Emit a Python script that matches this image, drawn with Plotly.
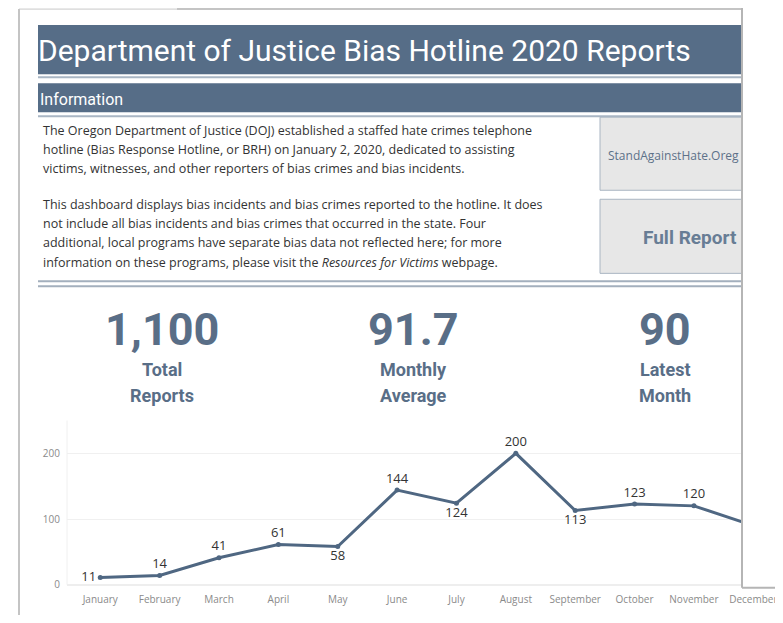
import plotly.graph_objects as go

# page body has an 8px margin; keep the figure inside the 783x623 window
OFF = 8
W, H = 783 - OFF, 623 - 2 * OFF
SY = 1.011  # small vertical correction so rows land where the reference has them

months = ["January", "February", "March", "April", "May", "June",
          "July", "August", "September", "October", "November", "December"]
reports = [11, 14, 41, 61, 58, 144, 124, 200, 113, 123, 120, 90]
label_pos = ["middle left", "top center", "top center", "top center", "bottom center",
             "top center", "bottom center", "top center", "bottom center",
             "top center", "top center", "top center"]

kpi_values = ["1,100", "91.7", "90"]
kpi_line1 = ["Total", "Monthly", "Latest"]
kpi_line2 = ["Reports", "Average", "Month"]

title_text = "Department of Justice Bias Hotline 2020 Reports"
para_lines = [
    "The Oregon Department of Justice (DOJ) established a staffed hate crimes telephone",
    "hotline (Bias Response Hotline, or BRH) on January 2, 2020, dedicated to assisting",
    "victims, witnesses, and other reporters of bias crimes and bias incidents.",
    "This dashboard displays bias incidents and bias crimes reported to the hotline. It does",
    "not include all bias incidents and bias crimes that occurred in the state. Four",
    "additional, local programs have separate bias data not reflected here; for more",
    "information on these programs, please visit the <i>Resources for Victims</i> webpage.",
]

SLATE = "#566d87"
KPI = "#596e87"
LINE = "#4f6782"


def px(x):
    return (x - OFF) / W


def py(y):
    return min(1.0, 1 - (y * SY - OFF) / H) if y > 0 else 1.0


fig = go.Figure()

fig.add_trace(go.Scatter(
    x=months, y=reports, mode="lines+markers+text",
    text=[str(v) for v in reports], textposition=label_pos,
    textfont=dict(family="Open Sans", size=13, color="#333333"),
    line=dict(color=LINE, width=3), marker=dict(color=LINE, size=5),
    cliponaxis=False, hoverinfo="x+y",
))

shapes = []


def rect(x0, y0, x1, y1, fill, line=None, lw=0, layer="below"):
    shapes.append(dict(type="rect", xref="paper", yref="paper",
                       x0=px(x0), x1=px(x1), y0=py(y1), y1=py(y0),
                       fillcolor=fill, layer=layer,
                       line=dict(color=line or fill, width=lw)))


def hline(x0, x1, y, color, w=1, layer="below"):
    shapes.append(dict(type="line", xref="paper", yref="paper",
                       x0=px(x0), x1=px(x1), y0=py(y), y1=py(y),
                       line=dict(color=color, width=w), layer=layer))


def vline(x, y0, y1, color, w=1, layer="below"):
    shapes.append(dict(type="line", xref="paper", yref="paper",
                       x0=px(x), x1=px(x), y0=py(y0), y1=py(y1),
                       line=dict(color=color, width=w), layer=layer))


# card edges and the window strip on top
vline(19, 9, 615, "#c4c4c4", 2)
hline(19, 180, 9, "#c8c8c8", 1)
hline(177, 742, 9, "#c4c4c4", 2)

# header bars
rect(38, 25, 742, 74, SLATE)
hline(38, 742, 77, "#a9b6c4", 2)
rect(38, 83, 742, 112, SLATE)
hline(38, 742, 116, "#a9b6c4", 2)

# link boxes
rect(600, 117, 745, 190, "#e7e7e7", "#a9b5c2", 1)
rect(600, 199, 745, 273, "#e7e7e7", "#a9b5c2", 1)

# double divider
hline(38, 742, 281, "#a3afbd", 2)
hline(38, 742, 286, "#a3afbd", 2)

# overlapping window on the right
rect(742, 0, 790, 587, "#ffffff", layer="above")
vline(742, 0, 587, "#b5b5b5", 2, layer="above")
hline(742, 790, 587, "#b5b5b5", 2, layer="above")

ann = []


def text(x, y, s, size, color, family="Open Sans", xanchor="left", bold=False):
    if bold:
        s = "<b>" + s + "</b>"
    ann.append(dict(x=px(x), y=py(y), xref="paper", yref="paper", text=s,
                    showarrow=False, xanchor=xanchor, yanchor="middle",
                    font=dict(family=family, size=size, color=color)))


text(36, 50, title_text, 30, "#ffffff", family="Roboto")
text(38, 99, "Information", 16, "#ffffff", family="Roboto")

line_y = [130, 149, 168, 204, 223, 242, 262]
for s, y in zip(para_lines, line_y):
    text(41, y, s, 12.5, "#333333")

text(606, 155, "StandAgainstHate.Oreg", 12, "#5d7189")
text(641, 237, "Full Report", 19, "#687d95", family="Roboto", bold=True)

kpi_x = [162, 413, 665]
for x, v, l1, l2 in zip(kpi_x, kpi_values, kpi_line1, kpi_line2):
    text(x, 329, v, 45, KPI, family="Roboto", xanchor="center", bold=True)
    text(x, 369, l1, 18, KPI, family="Roboto", xanchor="center", bold=True)
    text(x, 395, l2, 18, KPI, family="Roboto", xanchor="center", bold=True)

fig.update_layout(
    width=W, height=H, margin=dict(l=0, r=0, t=0, b=0),
    paper_bgcolor="#ffffff", plot_bgcolor="#ffffff",
    showlegend=False, shapes=shapes, annotations=ann,
    xaxis=dict(domain=[px(67), 1], range=[-0.56, 11.5], type="category",
               showgrid=False, zeroline=False, showline=False, ticks="",
               tickfont=dict(family="Open Sans", size=10, color="#8a8a8a"),
               ticklabelstandoff=7),
    yaxis=dict(domain=[py(584), py(420)], range=[0, 250], tickvals=[0, 100, 200],
               showgrid=True, gridcolor="#f0f0f0", zeroline=True, zerolinecolor="#eeeeee",
               showline=False, ticks="",
               tickfont=dict(family="Open Sans", size=10, color="#8a8a8a"),
               ticklabelstandoff=6),
)

# faint left border of the chart pane
fig.add_shape(type="line", xref="paper", yref="paper", x0=px(67), x1=px(67),
              y0=py(584), y1=py(420), line=dict(color="#f0f0f0", width=1), layer="below")

fig.write_html("out.html")
